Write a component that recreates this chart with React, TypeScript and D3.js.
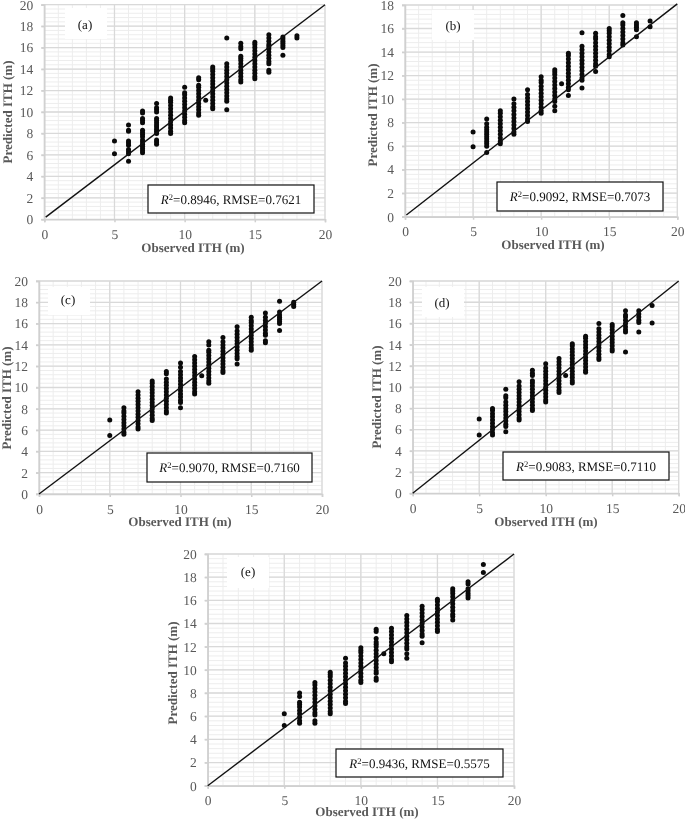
import React, { useEffect, useRef } from 'react';
import * as d3 from 'd3';

type Column = [number, number[]];

const xTicks = [0, 5, 10, 15, 20];
const yTicks20 = [0, 2, 4, 6, 8, 10, 12, 14, 16, 18, 20];
const yTicks18 = [0, 2, 4, 6, 8, 10, 12, 14, 16, 18];

// observed height -> predicted heights
const pointsA: Column[] = [
  [5, [6.1, 7.3]],
  [6, [5.4, 6.1, 6.3, 6.5, 6.9, 7.1, 7.3, 8.2, 8.3, 8.8]],
  [7, [6.2, 6.4, 6.6, 6.8, 7, 7.2, 7.4, 7.7, 7.9, 8.1, 8.3, 9, 9.2, 9.4, 9.9, 10.1]],
  [8, [7, 7.2, 7.4, 8, 8.2, 8.4, 8.6, 8.8, 9, 9.2, 9.4, 10, 10.2, 10.4, 10.8]],
  [9, [8, 8.2, 8.5, 8.8, 9.1, 9.4, 9.7, 10, 10.3, 10.6, 10.9, 11.1, 11.3]],
  [10, [9, 9.2, 9.5, 9.8, 10.1, 10.4, 10.7, 11, 11.3, 11.6, 11.8, 12.3]],
  [11, [9.7, 9.9, 10.2, 10.5, 10.8, 11.1, 11.4, 11.7, 12, 12.3, 12.5, 13, 13.2]],
  [11.5, [11.1]],
  [12, [10.3, 10.5, 10.8, 11.1, 11.4, 11.7, 12, 12.3, 12.6, 12.9, 13.2, 13.5, 13.8, 14, 14.2]],
  [13, [10.2, 11, 11.2, 11.5, 11.8, 12.1, 12.4, 12.7, 13, 13.3, 13.6, 13.9, 14.2, 14.5, 16.9]],
  [14, [12.8, 13, 13.3, 13.6, 13.9, 14.2, 14.5, 14.8, 15, 15.2, 15.9, 16.1, 16.4]],
  [15, [13.1, 13.3, 13.6, 13.9, 14.2, 14.5, 14.8, 15.1, 15.4, 15.7, 16, 16.3, 16.5]],
  [16, [13.7, 13.9, 14.5, 14.7, 15, 15.3, 15.6, 15.9, 16.1, 16.3, 16.6, 16.9, 17.2]],
  [17, [15.3, 16, 16.2, 16.4, 16.6, 16.8, 17]],
  [18, [16.9, 17.1]],
];

const pointsB: Column[] = [
  [5, [5.95, 7.2]],
  [6, [5.45, 6, 6.2, 6.4, 6.6, 6.8, 7, 7.2, 7.4, 7.6, 7.9, 8.3]],
  [7, [6.2, 6.4, 6.7, 7, 7.3, 7.6, 7.9, 8.2, 8.5, 8.8, 9]],
  [8, [7, 7.2, 7.5, 7.8, 8.1, 8.4, 8.7, 9, 9.3, 9.6, 10]],
  [9, [8.1, 8.3, 8.6, 8.9, 9.2, 9.5, 9.8, 10.1, 10.4, 10.8]],
  [10, [8.8, 9, 9.3, 9.6, 9.9, 10.2, 10.5, 10.8, 11.1, 11.4, 11.6, 11.9]],
  [11, [9, 9.4, 9.8, 10, 10.3, 10.6, 10.9, 11.2, 11.5, 11.8, 12.1, 12.3, 12.5]],
  [11.5, [11.3]],
  [12, [10.3, 10.8, 11, 11.3, 11.6, 11.9, 12.2, 12.5, 12.8, 13.1, 13.4, 13.7, 13.9]],
  [13, [10.95, 11.6, 11.8, 12.1, 12.4, 12.7, 13, 13.3, 13.6, 13.9, 14.2, 14.5, 15.65]],
  [14, [12.35, 12.8, 13, 13.3, 13.6, 13.9, 14.2, 14.5, 14.8, 15.1, 15.3, 15.6]],
  [15, [13.6, 13.8, 14.1, 14.4, 14.7, 15, 15.3, 15.6, 15.8, 16]],
  [16, [14.6, 14.8, 15.1, 15.4, 15.7, 16, 16.3, 16.5, 17.1]],
  [17, [15.3, 15.9, 16.1, 16.3, 16.5]],
  [18, [16.15, 16.65]],
];

const pointsC: Column[] = [
  [5, [5.5, 6.95]],
  [6, [5.6, 5.8, 6.1, 6.4, 6.7, 7, 7.3, 7.6, 7.8, 8.1]],
  [7, [6.1, 6.3, 6.6, 6.9, 7.2, 7.5, 7.8, 8.1, 8.4, 8.7, 9, 9.3, 9.6]],
  [8, [6.9, 7.1, 7.4, 7.7, 8, 8.3, 8.6, 8.9, 9.2, 9.5, 9.8, 10.1, 10.4, 10.6]],
  [9, [7.6, 7.8, 8.1, 8.4, 8.7, 9, 9.3, 9.6, 9.9, 10.2, 10.5, 10.8, 11.3, 11.5]],
  [10, [8.1, 8.6, 8.8, 9.1, 9.4, 9.7, 10, 10.3, 10.6, 10.9, 11.2, 11.5, 11.9, 12.3]],
  [11, [9.4, 9.6, 9.9, 10.2, 10.5, 10.8, 11.1, 11.4, 11.7, 12, 12.3, 12.6, 12.9]],
  [11.5, [11.1]],
  [12, [10.4, 10.6, 10.9, 11.2, 11.5, 11.8, 12.1, 12.4, 12.7, 13, 13.3, 13.5, 14, 14.3]],
  [13, [11.4, 11.6, 11.9, 12.2, 12.5, 12.8, 13.1, 13.4, 13.7, 14, 14.3, 14.7]],
  [14, [12.2, 12.7, 12.9, 13.2, 13.5, 13.8, 14.1, 14.4, 14.7, 15, 15.3, 15.7]],
  [15, [13.5, 13.7, 14, 14.3, 14.6, 14.9, 15.2, 15.5, 15.8, 16.1, 16.3, 16.6]],
  [16, [14.2, 14.4, 14.9, 15.1, 15.4, 15.7, 16, 16.3, 16.6, 17]],
  [17, [15.35, 16, 16.2, 16.4, 16.6, 16.8, 17.1, 18.1]],
  [18, [17.6, 17.8, 18]],
];

const pointsD: Column[] = [
  [5, [5.5, 7]],
  [6, [5.5, 5.7, 6, 6.3, 6.6, 6.9, 7.2, 7.5, 7.8, 8]],
  [7, [5.8, 6.3, 6.5, 6.8, 7.1, 7.4, 7.7, 8, 8.3, 8.6, 9, 9.2, 9.8]],
  [8, [6.9, 7.1, 7.4, 7.7, 8, 8.3, 8.6, 8.9, 9.2, 9.5, 9.8, 10.1, 10.5]],
  [9, [7.8, 8, 8.3, 8.6, 8.9, 9.2, 9.5, 9.8, 10.1, 10.4, 10.6, 11.1, 11.3, 11.6]],
  [10, [8.6, 8.8, 9.1, 9.4, 9.7, 10, 10.3, 10.6, 10.9, 11.2, 11.5, 11.8, 12.2]],
  [11, [9.5, 9.7, 10, 10.3, 10.6, 10.9, 11.2, 11.5, 11.8, 12.1, 12.4, 12.7]],
  [11.5, [11.1]],
  [12, [10.4, 10.6, 10.9, 11.2, 11.5, 11.8, 12.1, 12.4, 12.7, 13, 13.3, 13.6, 13.9, 14.1]],
  [13, [11.4, 11.6, 11.9, 12.2, 12.5, 12.8, 13.1, 13.4, 13.7, 14, 14.3, 14.6, 14.8]],
  [14, [12.6, 12.8, 13.1, 13.4, 13.7, 14, 14.3, 14.6, 14.9, 15.2, 15.5, 16]],
  [15, [13.4, 13.6, 13.9, 14.2, 14.5, 14.8, 15.1, 15.4, 15.7, 15.9]],
  [16, [13.3, 15.2, 15.4, 15.7, 16, 16.3, 16.6, 16.8, 17.2]],
  [17, [15.2, 16.1, 16.3, 16.6, 16.9, 17.2]],
  [18, [16.05, 17.7]],
];

const pointsE: Column[] = [
  [5, [5.2, 6.2]],
  [6, [5.4, 5.6, 5.9, 6.2, 6.5, 6.8, 7, 7.2, 7.7, 8]],
  [7, [5.4, 5.6, 6.1, 6.3, 6.6, 6.9, 7.2, 7.5, 7.8, 8.1, 8.4, 8.7, 8.9]],
  [8, [6.2, 6.4, 6.7, 7, 7.3, 7.6, 7.9, 8.2, 8.5, 8.8, 9.1, 9.4, 9.6, 9.8]],
  [9, [7.1, 7.3, 7.6, 7.9, 8.2, 8.5, 8.8, 9.1, 9.4, 9.7, 10, 10.3, 10.6, 11]],
  [10, [8.9, 9.1, 9.4, 9.7, 10, 10.3, 10.6, 10.9, 11.2, 11.5, 11.7, 11.9]],
  [11, [9.1, 9.3, 9.7, 9.9, 10.2, 10.5, 10.8, 11.1, 11.4, 11.7, 12, 12.2, 12.4, 12.7, 13.3, 13.5]],
  [11.5, [11.4]],
  [12, [10.7, 10.9, 11.2, 11.5, 11.8, 12.1, 12.4, 12.7, 13, 13.3, 13.6]],
  [13, [11, 11.4, 11.8, 12, 12.3, 12.6, 12.9, 13.2, 13.5, 13.8, 14.1, 14.4, 14.7]],
  [14, [12.35, 12.9, 13.1, 13.4, 13.7, 14, 14.3, 14.6, 14.9, 15.2, 15.5]],
  [15, [13.3, 13.5, 13.8, 14.1, 14.4, 14.7, 15, 15.3, 15.6, 15.9, 16.1]],
  [16, [14.3, 14.6, 14.8, 15.1, 15.4, 15.7, 16, 16.3, 16.6, 16.8, 17]],
  [17, [16.2, 16.4, 16.6, 16.8, 17, 17.4, 17.6]],
  [18, [18.4, 19.1]],
];

const panels = [
  { tag: '(a)', points: pointsA, yMax: 20, yTicks: yTicks20, r2: '0.8946', rmse: '0.7621', line: [0.1, 0.2, 20, 20],
    plot: [44.3, 325, 4.7, 219.3], patch: [65, 107, 8, 39], tagAt: [85, 29], box: [148, 314, 185, 213], xTitle: [193, 252], yTitle: [12, 112] },
  { tag: '(b)', points: pointsB, yMax: 18, yTicks: yTicks18, r2: '0.9092', rmse: '0.7073', line: [0.1, 0.15, 20, 18.1],
    plot: [405, 677.3, 5, 216.7], patch: [432, 474, 10, 40], tagAt: [453, 30], box: [497, 663, 182, 211], xTitle: [553, 249], yTitle: [377, 115] },
  { tag: '(c)', points: pointsC, yMax: 20, yTicks: yTicks20, r2: '0.9070', rmse: '0.7160', line: [0, 0, 20, 20],
    plot: [39, 322, 281, 494], patch: [48, 90, 287, 315], tagAt: [68, 304], box: [147, 312, 453, 482], xTitle: [180, 526], yTitle: [11, 398] },
  { tag: '(d)', points: pointsD, yMax: 20, yTicks: yTicks20, r2: '0.9083', rmse: '0.7110', line: [0, 0, 20, 20],
    plot: [412.7, 678.7, 281, 493.3], patch: [422, 464, 287, 317], tagAt: [442, 307], box: [503, 669, 452, 480], xTitle: [546, 526], yTitle: [381, 397] },
  { tag: '(e)', points: pointsE, yMax: 20, yTicks: yTicks20, r2: '0.9436', rmse: '0.5575', line: [0, 0, 20, 20],
    plot: [207.7, 514, 554, 785.7], patch: [227, 269, 557, 588], tagAt: [248, 576], box: [336, 503, 749, 777], xTitle: [367, 816], yTitle: [177, 673] },
];

const serif = '"Liberation Serif", "Times New Roman", serif';
const grey = '#595959';

const App = () => {
  const svgRef = useRef<SVGSVGElement>(null);

  useEffect(() => {
    const svg = d3.select(svgRef.current);
    svg.selectAll('*').remove();

    panels.forEach(p => {
      const [left, right, top, bottom] = p.plot;
      const x = d3.scaleLinear().domain([0, 20]).range([left, right]);
      const y = d3.scaleLinear().domain([0, p.yMax]).range([bottom, top]);
      const g = svg.append('g').attr('text-rendering', 'geometricPrecision');

      // Minor then major grid
      g.selectAll('.vminor').data(d3.range(0, 21)).join('line')
        .attr('x1', d => x(d)).attr('x2', d => x(d))
        .attr('y1', top).attr('y2', bottom)
        .attr('stroke', '#ededed').attr('stroke-width', 1);
      g.selectAll('.hminor').data(d3.range(0, p.yMax / 0.4 + 1)).join('line')
        .attr('x1', left).attr('x2', right)
        .attr('y1', d => y(d * 0.4)).attr('y2', d => y(d * 0.4))
        .attr('stroke', '#ededed').attr('stroke-width', 1);
      g.selectAll('.vmajor').data(xTicks).join('line')
        .attr('x1', d => x(d)).attr('x2', d => x(d))
        .attr('y1', top).attr('y2', bottom)
        .attr('stroke', '#d9d9d9').attr('stroke-width', 1.3);
      g.selectAll('.hmajor').data(p.yTicks).join('line')
        .attr('x1', left - 3).attr('x2', right)
        .attr('y1', d => y(d)).attr('y2', d => y(d))
        .attr('stroke', '#d9d9d9').attr('stroke-width', 1.3);

      // Axes
      const xAxis = g.append('g')
        .attr('transform', `translate(0,${bottom})`)
        .call(d3.axisBottom(x).tickValues(xTicks).tickSize(3).tickPadding(7));
      const yAxis = g.append('g')
        .attr('transform', `translate(${left},0)`)
        .call(d3.axisLeft(y).tickValues(p.yTicks).tickSize(3).tickPadding(8));
      [xAxis, yAxis].forEach(a => {
        a.selectAll('.domain, .tick line').attr('stroke', '#d0d0d0').attr('stroke-width', 1.5);
        a.selectAll('text')
          .attr('fill', grey)
          .style('font-family', serif)
          .style('font-size', '13.5px');
      });

      // White patch behind the panel letter
      const [px0, px1, py0, py1] = p.patch;
      g.append('rect')
        .attr('x', px0).attr('y', py0)
        .attr('width', px1 - px0).attr('height', py1 - py0)
        .attr('fill', '#fff');
      g.append('text')
        .attr('x', p.tagAt[0]).attr('y', p.tagAt[1])
        .attr('text-anchor', 'middle')
        .attr('fill', '#111')
        .style('font-family', serif)
        .style('font-size', '13px')
        .text(p.tag);

      // Dots
      g.append('g').selectAll('circle')
        .data(p.points.flatMap(([ox, ys]) => ys.map(v => [ox, v])))
        .join('circle')
        .attr('cx', d => x(d[0]))
        .attr('cy', d => y(d[1]))
        .attr('r', 2.5)
        .attr('fill', '#0a0a0a');

      // 1:1 line
      g.append('line')
        .attr('x1', x(p.line[0])).attr('y1', y(p.line[1]))
        .attr('x2', x(p.line[2])).attr('y2', y(p.line[3]))
        .attr('stroke', '#111').attr('stroke-width', 1.4);

      // Stats box
      const [bx0, bx1, by0, by1] = p.box;
      g.append('rect')
        .attr('x', bx0).attr('y', by0)
        .attr('width', bx1 - bx0).attr('height', by1 - by0)
        .attr('fill', '#fff').attr('stroke', '#111').attr('stroke-width', 1.2);
      const stat = g.append('text')
        .attr('x', (bx0 + bx1) / 2).attr('y', (by0 + by1) / 2 + 4.5)
        .attr('text-anchor', 'middle')
        .attr('fill', '#111')
        .style('font-family', serif)
        .style('font-size', '13px');
      stat.append('tspan').style('font-style', 'italic').text('R');
      stat.append('tspan').attr('dy', -4).style('font-size', '8.5px').text('2');
      stat.append('tspan').attr('dy', 4).text(`=${p.r2}, RMSE=${p.rmse}`);

      // Axis titles
      g.append('text')
        .attr('x', p.xTitle[0]).attr('y', p.xTitle[1])
        .attr('text-anchor', 'middle')
        .attr('fill', grey)
        .style('font-family', serif)
        .style('font-size', '13px')
        .style('font-weight', 'bold')
        .text('Observed ITH (m)');
      g.append('text')
        .attr('transform', `translate(${p.yTitle[0]},${p.yTitle[1]}) rotate(-90)`)
        .attr('text-anchor', 'middle')
        .attr('fill', grey)
        .style('font-family', serif)
        .style('font-size', '13px')
        .style('font-weight', 'bold')
        .text('Predicted ITH (m)');
    });
  }, []);

  return (
    <svg
      ref={svgRef}
      width={685}
      height={819}
      style={{ position: 'absolute', left: 0, top: 0, background: '#fff', filter: 'blur(0.35px)' }}
    />
  );
};

export default App;
